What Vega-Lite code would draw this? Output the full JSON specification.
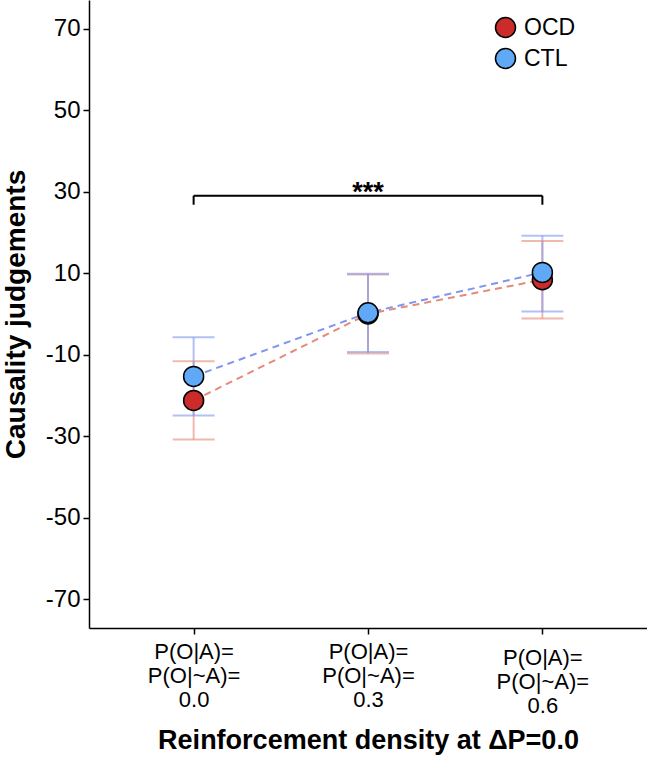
{
  "$schema": "https://vega.github.io/schema/vega-lite/v6.json",
  "width": 558,
  "height": 628,
  "autosize": {"type": "none"},
  "padding": {"left": 89, "top": 0, "right": 0, "bottom": 146},
  "background": "white",
  "config": {
    "view": {"stroke": null},
    "font": "Liberation Sans",
    "axis": {
      "domainColor": "black", "domainWidth": 1.5,
      "tickColor": "black", "tickWidth": 1.5, "tickSize": 6,
      "labelColor": "black", "titleColor": "black",
      "labelFont": "Liberation Sans", "titleFont": "Liberation Sans",
      "grid": false
    }
  },
  "datasets": {
    "stats": [
      {"group": "OCD", "x": "0.0", "mean": -21.2, "lo": -30.8, "hi": -11.6},
      {"group": "OCD", "x": "0.3", "mean": 0.0, "lo": -9.7, "hi": 9.7},
      {"group": "OCD", "x": "0.6", "mean": 8.4, "lo": -1.1, "hi": 17.9},
      {"group": "CTL", "x": "0.0", "mean": -15.3, "lo": -24.9, "hi": -5.7},
      {"group": "CTL", "x": "0.3", "mean": 0.3, "lo": -9.3, "hi": 9.9},
      {"group": "CTL", "x": "0.6", "mean": 10.2, "lo": 0.6, "hi": 19.2}
    ],
    "bracket": [
      {"x": "0.0", "x2": "0.6", "y": 29, "y2": 29},
      {"x": "0.0", "x2": "0.0", "y": 26.8, "y2": 29},
      {"x": "0.6", "x2": "0.6", "y": 26.8, "y2": 29}
    ],
    "sig": [
      {"x": "0.3", "y": 29, "label": "***"}
    ]
  },
  "encoding": {
    "x": {
      "field": "x", "type": "ordinal",
      "scale": {"type": "point", "domain": ["0.0", "0.3", "0.6"], "padding": 0.6},
      "axis": {
        "labelAngle": 0,
        "labelFontSize": 22,
        "labelLineHeight": 24,
        "labelPadding": {"condition": {"test": "datum.value == '0.6'", "value": 13}, "value": 7},
        "labelExpr": "['P(O|A)=', 'P(O|~A)=', datum.label]",
        "title": "Reinforcement density at ΔP=0.0",
        "titleFontSize": 27,
        "titleFontWeight": "bold",
        "titlePadding": 11
      }
    }
  },
  "layer": [
    {
      "data": {"name": "stats"},
      "mark": {"type": "rule", "strokeWidth": 2, "opacity": 0.6},
      "encoding": {
        "y": {"field": "lo", "type": "quantitative",
          "scale": {"domain": [-77, 77], "nice": false, "zero": false},
          "axis": {
            "values": [-70, -50, -30, -10, 10, 30, 50, 70],
            "labelExpr": "'' + datum.value",
            "labelFontSize": 24,
            "labelPadding": 3,
            "title": "Causality judgements",
            "titleFontSize": 28,
            "titleFontWeight": "bold",
            "titlePadding": 15
          }},
        "y2": {"field": "hi"},
        "stroke": {"field": "group", "type": "nominal",
          "scale": {"range": ["#7F96EE", "#E58A78"]},
          "legend": null}
      }
    },
    {
      "data": {"name": "stats"},
      "mark": {"type": "rule", "strokeWidth": 2, "opacity": 0.6, "xOffset": -21, "x2Offset": 21},
      "encoding": {
        "x2": {"field": "x"},
        "y": {"field": "lo", "type": "quantitative"},
        "stroke": {"field": "group", "type": "nominal", "legend": null}
      }
    },
    {
      "data": {"name": "stats"},
      "mark": {"type": "rule", "strokeWidth": 2, "opacity": 0.6, "xOffset": -21, "x2Offset": 21},
      "encoding": {
        "x2": {"field": "x"},
        "y": {"field": "hi", "type": "quantitative"},
        "stroke": {"field": "group", "type": "nominal", "legend": null}
      }
    },
    {
      "data": {"name": "stats"},
      "mark": {"type": "line", "strokeWidth": 2, "strokeDash": [7, 5]},
      "encoding": {
        "y": {"field": "mean", "type": "quantitative"},
        "stroke": {"field": "group", "type": "nominal", "legend": null},
        "detail": {"field": "group"}
      }
    },
    {
      "data": {"name": "bracket"},
      "mark": {"type": "rule", "strokeWidth": 2, "color": "black"},
      "encoding": {
        "x2": {"field": "x2"},
        "y": {"field": "y", "type": "quantitative"},
        "y2": {"field": "y2"}
      }
    },
    {
      "data": {"name": "sig"},
      "mark": {"type": "text", "fontSize": 27, "fontWeight": "bold", "baseline": "alphabetic", "dy": 5, "color": "black"},
      "encoding": {
        "y": {"field": "y", "type": "quantitative"},
        "text": {"field": "label"}
      }
    },
    {
      "data": {"name": "stats"},
      "mark": {"type": "point", "shape": "circle", "filled": true, "size": 400, "opacity": 1, "stroke": "black", "strokeWidth": 1.5},
      "encoding": {
        "y": {"field": "mean", "type": "quantitative"},
        "color": {"field": "group", "type": "nominal",
          "scale": {"domain": ["OCD", "CTL"], "range": ["#CC2B2B", "#5FA9F6"]},
          "legend": {
            "title": null,
            "orient": "none",
            "legendX": 405,
            "legendY": 16,
            "symbolType": "circle",
            "symbolSize": 400,
            "symbolStrokeColor": "black",
            "symbolStrokeWidth": 1.5,
            "symbolOpacity": 1,
            "labelFontSize": 23,
            "labelFont": "Liberation Sans",
            "labelColor": "black",
            "labelOffset": 7,
            "rowPadding": 4
          }}
      }
    }
  ]
}
